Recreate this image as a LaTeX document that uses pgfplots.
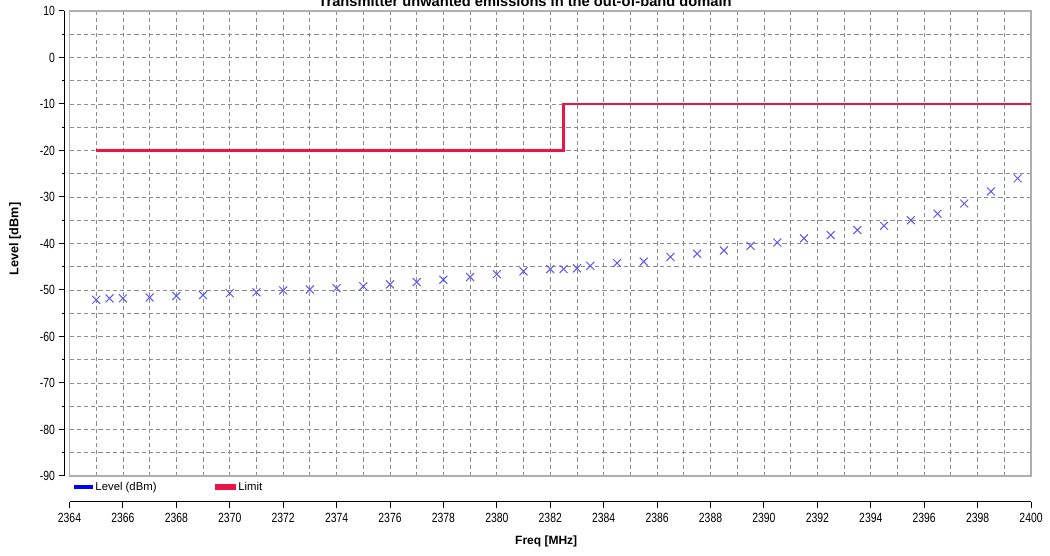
\documentclass[border=0pt]{standalone}
\usepackage{fontspec}
\setmainfont{Liberation Sans}
\usepackage{pgfplots}
\pgfplotsset{compat=1.18}
\definecolor{gridgray}{RGB}{140,140,140}
\definecolor{framegray}{RGB}{175,175,175}
\definecolor{limitred}{RGB}{235,20,70}
\definecolor{levelblue}{RGB}{90,90,240}
\begin{document}
\begin{tikzpicture}
\pgfplotsset{
  common/.style={scale only axis, width=721.125pt, height=348.75pt,
    xmin=2364, xmax=2400, ymin=-90, ymax=10,
    /pgf/number format/assume math mode=true, /pgf/number format/1000 sep={},
    tick label style={font=\fontsize{10}{12}\selectfont, xscale=0.78}},
}
% main plot area
\begin{axis}[common, at={(52.125pt,60pt)}, anchor=south west,
  xtick={2364,2365,...,2400}, ytick={-90,-85,...,10},
  xticklabels={}, yticklabels={}, major tick length=0pt,
  grid=major, grid style={gridgray, line width=0.6pt, dash pattern=on 3.2pt off 2.2pt},
  axis line style={framegray, line width=1.3pt},
  legend columns=2,
  legend style={draw=none, fill=none, at={(axis description cs:0.0047,-0.0237)}, anchor=west,
    font=\fontsize{8.5}{10}\selectfont, inner sep=0pt,
    /tikz/every even column/.append style={column sep=42pt}},
]
\addplot[only marks, mark=x, mark size=4.2pt, levelblue, mark options={line width=0.75pt},
  legend image code/.code={\fill[blue] (0pt,-1.1pt) rectangle (13.5pt,1.1pt);}] coordinates {
(2365,-52.1) (2365.5,-51.8) (2366,-51.8) (2367,-51.6) (2368,-51.3) (2369,-51.1)
(2370,-50.7) (2371,-50.5) (2372,-50.1) (2373,-49.9) (2374,-49.6) (2375,-49.2)
(2376,-48.8) (2377,-48.3) (2378,-47.8) (2379,-47.2) (2380,-46.6) (2381,-46.0)
(2382,-45.5) (2382.5,-45.5) (2383,-45.35) (2383.5,-44.8) (2384.5,-44.2) (2385.5,-43.9)
(2386.5,-42.9) (2387.5,-42.2) (2388.5,-41.5) (2389.5,-40.5) (2390.5,-39.8) (2391.5,-38.9)
(2392.5,-38.2) (2393.5,-37.1) (2394.5,-36.2) (2395.5,-35.0) (2396.5,-33.6) (2397.5,-31.4)
(2398.5,-28.8) (2399.5,-26.0)
};
\addlegendentry{Level (dBm)}
\addplot[limitred, line width=1.8pt,
  legend image code/.code={\fill[limitred] (0pt,-1.1pt) rectangle (13.5pt,1.1pt);}] coordinates {
(2365,-20) (2382.5,-20) (2382.5,-10) (2400,-10)
};
\addlegendentry{Limit}
\end{axis}
% detached y axis
\begin{axis}[common, at={(48.375pt,60pt)}, anchor=south west,
  axis y line=left, axis x line=none,
  axis line style={black, line width=0.75pt, -},
  ytick={-90,-80,...,10}, minor y tick num=1, tick align=outside,
  major tick length=4.5pt, minor tick length=2.2pt,
  tick style={black, line width=0.75pt},
  ylabel={Level [dBm]},
  ylabel style={at={(axis description cs:-0.0513,0.5097)}, anchor=center, rotate=0,
    font=\bfseries\fontsize{9.5}{11}\selectfont},
]
\end{axis}
% detached x axis
\begin{axis}[common, at={(52.125pt,40.5pt)}, anchor=south west,
  axis x line=bottom, axis y line=none,
  axis line style={black, line width=0.75pt, -},
  xtick={2364,2366,...,2400}, minor x tick num=1, tick align=outside,
  major tick length=4.5pt, minor tick length=2.25pt,
  tick style={black, line width=0.75pt},
  xlabel={Freq [MHz]},
  xlabel style={at={(axis description cs:0.4958,0)}, anchor=center, yshift=-29.25pt,
    font=\bfseries\fontsize{9}{11}\selectfont},
]
\end{axis}
\node[anchor=base, font=\bfseries\fontsize{11}{13}\selectfont, inner sep=0pt]
  at (393.75pt,412pt) {Transmitter unwanted emissions in the out-of-band domain};
\pgfresetboundingbox
\useasboundingbox (0,0) rectangle (787.5pt,417pt);
\end{tikzpicture}
\end{document}
